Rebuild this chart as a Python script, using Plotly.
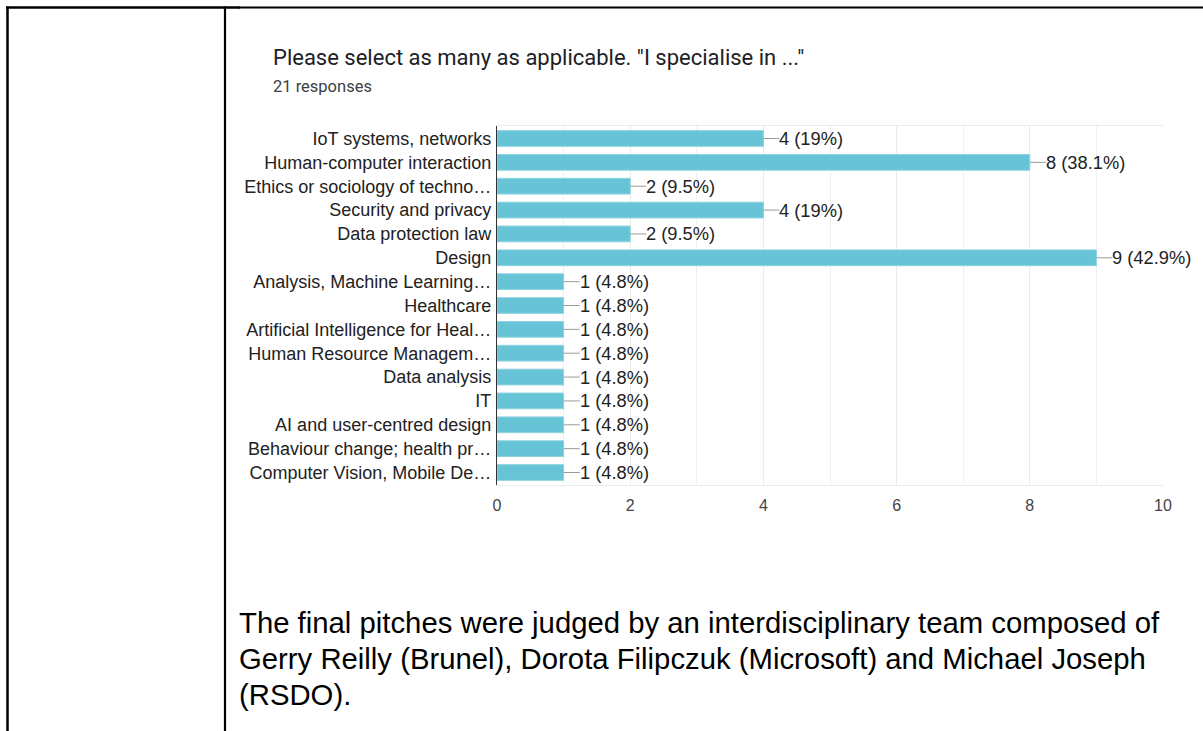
import plotly.graph_objects as go

W, H = 1203, 731

categories = [
    "IoT systems, networks",
    "Human-computer interaction",
    "Ethics or sociology of techno…",
    "Security and privacy",
    "Data protection law",
    "Design",
    "Analysis, Machine Learning…",
    "Healthcare",
    "Artificial Intelligence for Heal…",
    "Human Resource Managem…",
    "Data analysis",
    "IT",
    "AI and user-centred design",
    "Behaviour change; health pr…",
    "Computer Vision, Mobile De…",
]
counts = [4, 8, 2, 4, 2, 9, 1, 1, 1, 1, 1, 1, 1, 1, 1]
percents = ["19%", "38.1%", "9.5%", "19%", "9.5%", "42.9%", "4.8%", "4.8%", "4.8%",
            "4.8%", "4.8%", "4.8%", "4.8%", "4.8%", "4.8%"]
x_ticks = [0, 2, 4, 6, 8, 10]

title_text = 'Please select as many as applicable. "I specialise in ..."'
subtitle_text = "21 responses"
paragraph_lines = [
    "The final pitches were judged by an interdisciplinary team composed of",
    "Gerry Reilly (Brunel), Dorota Filipczuk (Microsoft) and Michael Joseph",
    "(RSDO).",
]

def px(x):
    return x / W

def py(y):
    return 1 - y / H

BAR = "#67c4d6"
LABEL_FONT = "Liberation Sans, Arial, sans-serif"

fig = go.Figure()
fig.add_trace(go.Bar(
    x=counts, y=categories, orientation="h",
    marker=dict(color=BAR, line=dict(color="#8fd3e0", width=1)),
    width=0.66, hoverinfo="skip",
))

shapes = []
annotations = []
for c, v, p in zip(categories, counts, percents):
    shapes.append(dict(type="line", xref="x", yref="y", xsizemode="pixel", xanchor=v,
                       x0=0, x1=16, y0=c, y1=c, line=dict(color="#9a9a9a", width=1)))
    annotations.append(dict(x=v, y=c, xref="x", yref="y", xshift=14, xanchor="left",
                            yanchor="middle", showarrow=False, text=f"{v} ({p})",
                            font=dict(family=LABEL_FONT, size=18.3, color="#222222")))

# document table borders
shapes += [
    dict(type="line", xref="paper", yref="paper", x0=px(6), x1=px(240), y0=py(7.5), y1=py(7.5),
         line=dict(color="black", width=2.5)),
    dict(type="line", xref="paper", yref="paper", x0=px(239), x1=1, y0=py(7.5), y1=py(7.5),
         line=dict(color="black", width=1.8)),
    dict(type="line", xref="paper", yref="paper", x0=px(7.5), x1=px(7.5), y0=py(6.5), y1=0,
         line=dict(color="black", width=2.5)),
    dict(type="line", xref="paper", yref="paper", x0=px(225), x1=px(225), y0=py(6.5), y1=0,
         line=dict(color="black", width=2.2)),
]

annotations += [
    dict(x=px(271), y=py(58), xref="paper", yref="paper", xanchor="left", yanchor="middle",
         showarrow=False, text=title_text,
         font=dict(family="Roboto, sans-serif", size=22, color="#202124")),
    dict(x=px(271), y=py(87), xref="paper", yref="paper", xanchor="left", yanchor="middle",
         showarrow=False, text=subtitle_text,
         font=dict(family="Roboto, sans-serif", size=16.5, color="#3c4043")),
]
for i, line in enumerate(paragraph_lines):
    annotations.append(dict(x=px(237), y=py(622 + 36 * i), xref="paper", yref="paper",
                            xanchor="left", yanchor="middle", showarrow=False, text=line,
                            font=dict(family=LABEL_FONT, size=29.3, color="#000000")))

fig.update_layout(
    width=W, height=H,
    margin=dict(l=0, r=0, t=0, b=0, autoexpand=False),
    paper_bgcolor="white", plot_bgcolor="white",
    showlegend=False,
    shapes=shapes,
    annotations=annotations,
    xaxis=dict(
        domain=[px(497), px(1163)],
        range=[0, 10], tickmode="array", tickvals=x_ticks, ticktext=[str(t) for t in x_ticks],
        showgrid=True, gridcolor="#ebebeb", gridwidth=1,
        minor=dict(tickmode="linear", tick0=0, dtick=1, showgrid=True,
                   gridcolor="#f0f0f0", gridwidth=1, ticks=""),
        zeroline=False,
        showline=True, mirror=True, linecolor="#ebebeb", linewidth=1,
        ticks="outside", ticklen=6, tickcolor="rgba(0,0,0,0)",
        tickfont=dict(family=LABEL_FONT, size=16, color="#444444"),
        automargin=False,
        fixedrange=True,
    ),
    yaxis=dict(
        domain=[py(485), py(126)],
        categoryorder="array", categoryarray=categories, autorange="reversed",
        showgrid=False, zeroline=False,
        showline=True, linecolor="#333333", linewidth=1.3,
        ticks="outside", ticklen=1, tickcolor="rgba(0,0,0,0)",
        tickfont=dict(family=LABEL_FONT, size=18, color="#222222"),
        automargin=False,
        fixedrange=True,
    ),
)

fig.write_html("out.html", config={"displayModeBar": False})
